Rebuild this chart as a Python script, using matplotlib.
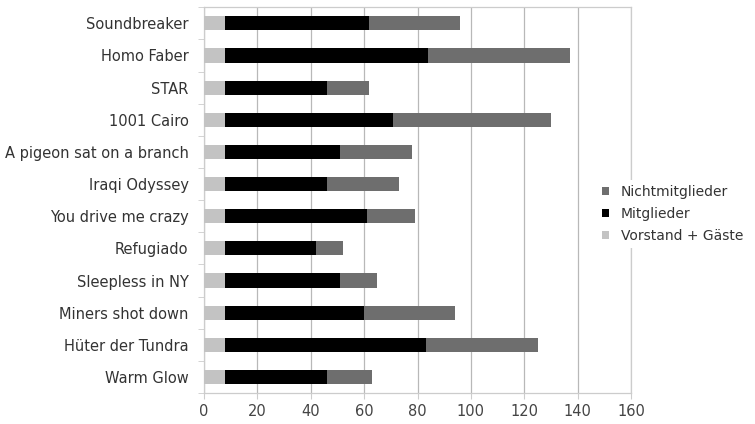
import matplotlib
matplotlib.use("Agg")
import matplotlib.pyplot as plt
import numpy as np

films = ["Soundbreaker", "Homo Faber", "STAR", "1001 Cairo", "A pigeon sat on a branch",
         "Iraqi Odyssey", "You drive me crazy", "Refugiado", "Sleepless in NY",
         "Miners shot down", "Hüter der Tundra", "Warm Glow"]
vorstand = [8, 8, 8, 8, 8, 8, 8, 8, 8, 8, 8, 8]
mitglieder = [54, 76, 38, 63, 43, 38, 53, 34, 43, 52, 75, 38]
nichtmitglieder = [34, 53, 16, 59, 27, 27, 18, 10, 14, 34, 42, 17]
xticks = [0, 20, 40, 60, 80, 100, 120, 140, 160]

plt.rcParams['font.family'] = ['DejaVu Sans']
fig = plt.figure(figsize=(7.55, 4.24), dpi=100)
ax = fig.add_axes([0.270, 0.073, 0.566, 0.910])

y = np.arange(len(films))[::-1]
h = 0.44
v = np.array(vorstand); m = np.array(mitglieder); n = np.array(nichtmitglieder)
b1 = ax.barh(y, v, height=h, color="#c3c3c3", label="Vorstand + Gäste", zorder=3)
b2 = ax.barh(y, m, left=v, height=h, color="#000000", label="Mitglieder", zorder=3)
b3 = ax.barh(y, n, left=v + m, height=h, color="#6e6e6e", label="Nichtmitglieder", zorder=3)

ax.set_xlim(0, 160)
ax.set_ylim(-0.5, len(films) - 0.5)
ax.set_xticks(xticks)
ax.set_yticks(y)
ax.set_yticklabels(films)
ax.set_yticks(np.arange(-0.5, len(films), 1), minor=True)
ax.tick_params(axis="y", which="major", length=0, pad=11, labelsize=10.5, labelcolor="#333333")
ax.tick_params(axis="y", which="minor", length=4, color="#cccccc")
ax.tick_params(axis="x", length=4, color="#cccccc", labelsize=10.5, labelcolor="#444444", pad=4)
ax.grid(axis="x", color="#b8b8b8", linewidth=0.9, zorder=0)
for s in ax.spines.values():
    s.set_color("#cccccc")
    s.set_linewidth(0.9)

handles = [b3, b2, b1]
leg = fig.legend(handles, [hh.get_label() for hh in handles], loc="center left",
                 bbox_to_anchor=(596 / 755, 1 - 214 / 424), frameon=True, fontsize=10,
                 handlelength=0.5, handleheight=0.5, handletextpad=0.9, labelspacing=0.55,
                 labelcolor="#333333", borderaxespad=0, borderpad=0.4,
                 facecolor="white", edgecolor="none", framealpha=1, fancybox=False)
leg.set_zorder(10)

fig.savefig("out.png", dpi=100)
